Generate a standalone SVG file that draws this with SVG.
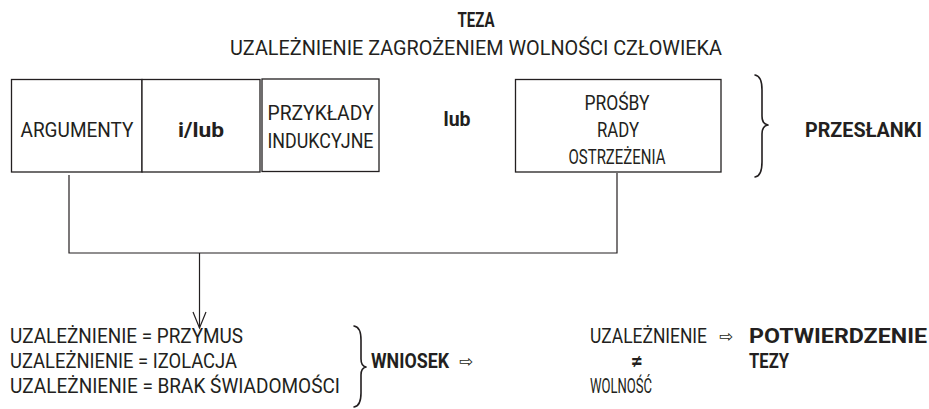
<svg xmlns="http://www.w3.org/2000/svg" width="929" height="409" viewBox="0 0 929 409">
<style>
text{font-family:Roboto,"Liberation Sans",sans-serif;font-size:21px;fill:#231f20}
.b{font-weight:bold}
.c{text-anchor:middle}
.box{fill:#fff;stroke:#231f20;stroke-width:1.3}
.ln{fill:none;stroke:#231f20;stroke-width:1.2}
.br{fill:none;stroke:#231f20;stroke-width:1.6;stroke-linecap:round;stroke-linejoin:round}
.ar{font-family:"DejaVu Sans",sans-serif;font-size:17px;font-weight:normal}
</style>
<g id="teza">
<text class="b c" x="476" y="27" font-size="18" textLength="37" lengthAdjust="spacingAndGlyphs">TEZA</text>
<text class="c" x="476" y="55" textLength="492" lengthAdjust="spacingAndGlyphs">UZALEŻNIENIE ZAGROŻENIEM WOLNOŚCI CZŁOWIEKA</text>
</g>
<g id="argumenty">
<rect class="box" x="11.5" y="79.5" width="130.5" height="92.5"/>
<text class="c" x="77" y="137" textLength="113" lengthAdjust="spacingAndGlyphs">ARGUMENTY</text>
</g>
<g id="ilub">
<rect class="box" x="142" y="79.5" width="118" height="92.5"/>
<text class="b c" x="201" y="137" textLength="46" lengthAdjust="spacingAndGlyphs">i/lub</text>
</g>
<g id="przyklady">
<rect class="box" x="262" y="79" width="117" height="92.5"/>
<text class="c" x="320.5" y="120" textLength="106" lengthAdjust="spacingAndGlyphs">PRZYKŁADY</text>
<text class="c" x="320.5" y="148" textLength="106" lengthAdjust="spacingAndGlyphs">INDUKCYJNE</text>
</g>
<g id="lub">
<text class="b c" x="457" y="126" textLength="27" lengthAdjust="spacingAndGlyphs">lub</text>
</g>
<g id="prosby">
<rect class="box" x="515.5" y="79.5" width="205.5" height="92.5"/>
<text class="c" x="617" y="110" textLength="65" lengthAdjust="spacingAndGlyphs">PROŚBY</text>
<text class="c" x="618" y="137" textLength="42" lengthAdjust="spacingAndGlyphs">RADY</text>
<text class="c" x="617" y="164" textLength="97" lengthAdjust="spacingAndGlyphs">OSTRZEŻENIA</text>
</g>
<g id="przeslanki">
<path class="br" d="M755,75 Q762,76 762,90 L762,116 Q762,124 768,125 Q762,126 762,134 L762,162 Q762,176 755,177"/>
<text class="b" x="805" y="137" textLength="117" lengthAdjust="spacingAndGlyphs">PRZESŁANKI</text>
</g>
<g id="connectors">
<path class="ln" d="M69,175 V253 H617 V173"/>
<path class="ln" d="M199.5,253 V328"/>
<path class="ln" d="M193,312 L199.5,328 L206,312"/>
</g>
<g id="wnioski">
<text x="10" y="343" textLength="233" lengthAdjust="spacingAndGlyphs">UZALEŻNIENIE = PRZYMUS</text>
<text x="10" y="368" textLength="227" lengthAdjust="spacingAndGlyphs">UZALEŻNIENIE = IZOLACJA</text>
<text x="10" y="393" textLength="330" lengthAdjust="spacingAndGlyphs">UZALEŻNIENIE = BRAK ŚWIADOMOŚCI</text>
<path class="br" d="M354,326 Q361,327 361,340 L361,359 Q361,366 366,367 Q361,368 361,375 L361,393 Q361,406 354,407"/>
</g>
<g id="wniosek">
<text class="b" x="371" y="368" font-size="18" textLength="78" lengthAdjust="spacingAndGlyphs">WNIOSEK</text>
<text class="ar" x="459" y="367">⇨</text>
</g>
<g id="rownanie">
<text x="590" y="343" font-size="18" textLength="117" lengthAdjust="spacingAndGlyphs">UZALEŻNIENIE</text>
<text class="b c" x="637" y="368" font-size="18">≠</text>
<text x="590" y="393" textLength="62" lengthAdjust="spacingAndGlyphs">WOLNOŚĆ</text>
</g>
<g id="potwierdzenie">
<text class="ar" x="719" y="342">⇨</text>
<text class="b" x="749" y="343" textLength="178" lengthAdjust="spacingAndGlyphs">POTWIERDZENIE</text>
<text class="b" x="749" y="368" textLength="40" lengthAdjust="spacingAndGlyphs">TEZY</text>
</g>
</svg>
